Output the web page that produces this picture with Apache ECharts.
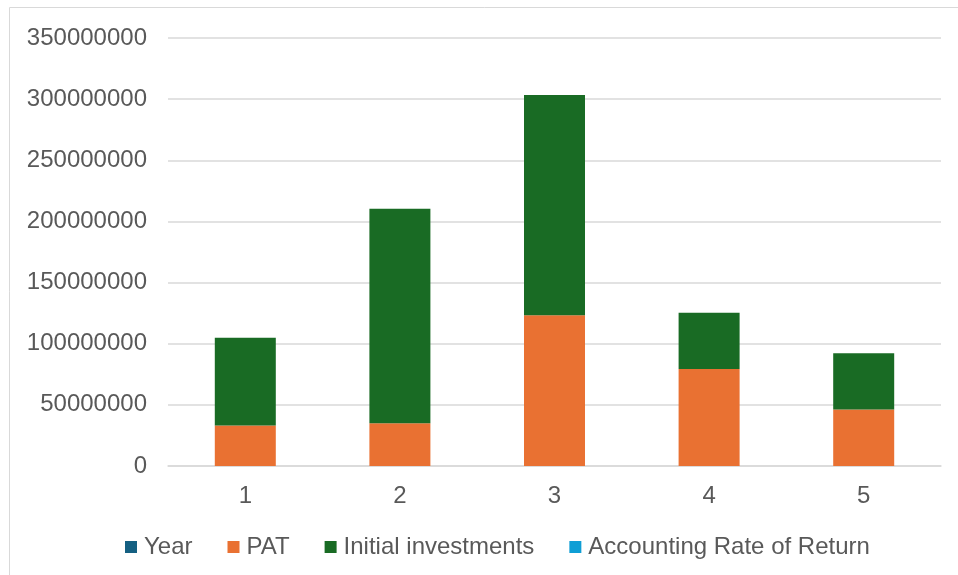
<!DOCTYPE html>
<html>
<head>
<meta charset="utf-8">
<script src="https://cdn.jsdelivr.net/npm/echarts@6/dist/echarts.min.js"></script>
<style>html,body{margin:0;padding:0;background:#fff;}#c{width:958px;height:575px;}</style>
</head>
<body>
<div id="c"></div>
<script>
var categories = ['1', '2', '3', '4', '5'];
var yearValues = [1, 2, 3, 4, 5];
var patValues = [33100000, 35000000, 123300000, 79300000, 46200000];
var initialValues = [71700000, 175400000, 180000000, 46100000, 46100000];
var arrValues = [0.46, 0.2, 0.68, 1.72, 1.0];
var yTicks = [0, 50000000, 100000000, 150000000, 200000000, 250000000, 300000000, 350000000];

var chart = echarts.init(document.getElementById('c'), null, {renderer: 'canvas'});
var font = 'Liberation Sans, Arial, sans-serif';
function bar(name, data, color) {
  return {name: name, type: 'bar', stack: 'total', data: data, barWidth: 61,
    itemStyle: {color: color}, emphasis: {disabled: true}};
}
chart.setOption({
  animation: false,
  graphic: [{type: 'rect', shape: {x: 9.5, y: 7.5, width: 1000, height: 600},
    style: {fill: 'none', stroke: '#d9d9d9', lineWidth: 1}, silent: true}],
  grid: {left: 168, right: 17, top: 38, bottom: 109, containLabel: false},
  legend: {
    bottom: 11, left: 120, itemWidth: 12, itemHeight: 12, itemGap: 35,
    icon: 'rect',
    textStyle: {color: '#595959', fontSize: 24, fontFamily: font, padding: [0, 0, 0, 2]},
    data: ['Year', 'PAT', 'Initial investments', 'Accounting Rate of Return']
  },
  xAxis: {
    type: 'category', data: categories,
    axisLine: {lineStyle: {color: '#d9d9d9', width: 1.5}},
    axisTick: {show: false},
    axisLabel: {color: '#595959', fontSize: 24, fontFamily: font, margin: 18}
  },
  yAxis: {
    type: 'value', min: yTicks[0], max: yTicks[yTicks.length - 1], interval: 50000000,
    axisLine: {show: false}, axisTick: {show: false},
    splitLine: {lineStyle: {color: '#d9d9d9', width: 1.5}},
    axisLabel: {color: '#595959', fontSize: 24, fontFamily: font, margin: 21,
      formatter: function (v) { return String(v); }}
  },
  series: [
    bar('Year', yearValues, '#156082'),
    bar('PAT', patValues, '#E97132'),
    bar('Initial investments', initialValues, '#196B24'),
    bar('Accounting Rate of Return', arrValues, '#0F9ED5')
  ]
});
</script>
</body>
</html>
